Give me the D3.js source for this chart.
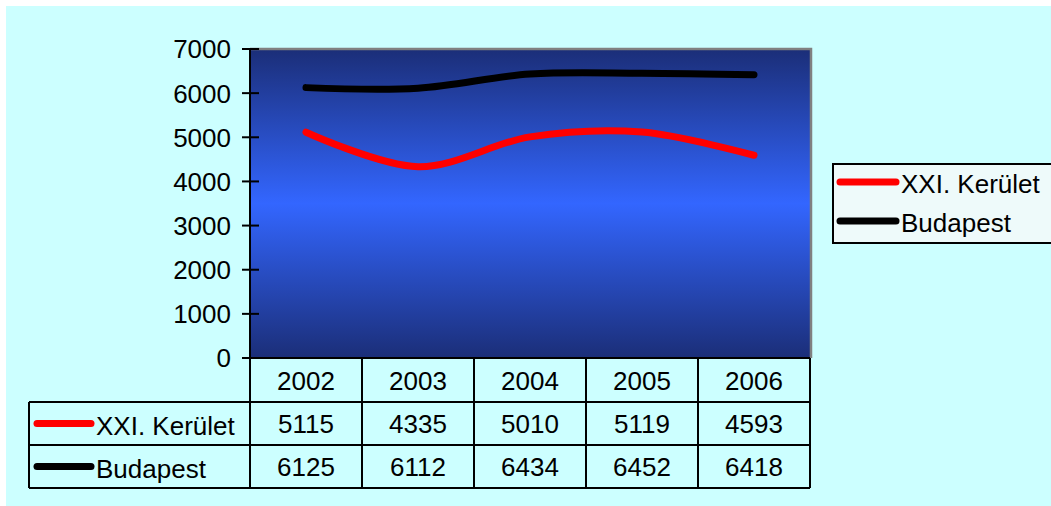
<!DOCTYPE html>
<html>
<head>
<meta charset="utf-8">
<script src="https://cdn.jsdelivr.net/npm/d3@7"></script>
<style>
	body { margin: 0; background: #fff; }
	svg { display: block; font-family: "Liberation Sans", Arial, sans-serif; }
</style>
</head>
<body>
<div id="chart"></div>
<script>
// chart data
var years = ["2002", "2003", "2004", "2005", "2006"];
var seriesNames = ["XXI. Kerület", "Budapest"];
var seriesColors = ["#ff0000", "#000000"];
var kerulet = [5115, 4335, 5010, 5119, 4593];
var budapest = [6125, 6112, 6434, 6452, 6418];
var yTicks = [0, 1000, 2000, 3000, 4000, 5000, 6000, 7000];

var series = [kerulet, budapest];

var W = 1051, H = 506;
var plot = { left: 250, right: 810, top: 49, bottom: 358 };
var rowH = 43;
var fs = 26;

var svg = d3.select("#chart").append("svg")
	.attr("width", W)
	.attr("height", H);

// background
svg.append("rect").attr("width", W).attr("height", H).attr("fill", "#fff");
svg.append("rect").attr("x", 6).attr("y", 6).attr("width", W - 6).attr("height", H - 6).attr("fill", "#ccffff");

// plot gradient
var defs = svg.append("defs");
var grad = defs.append("linearGradient").attr("id", "bg").attr("x1", 0).attr("y1", 0).attr("x2", 0).attr("y2", 1);
grad.append("stop").attr("offset", "0%").attr("stop-color", "#1b2e78");
grad.append("stop").attr("offset", "50%").attr("stop-color", "#3366ff");
grad.append("stop").attr("offset", "100%").attr("stop-color", "#1b2e78");

var x = d3.scaleBand().domain(years).range([plot.left, plot.right]);
var y = d3.scaleLinear().domain([0, 7000]).range([plot.bottom, plot.top]);

svg.append("rect")
	.attr("x", plot.left).attr("y", plot.top)
	.attr("width", plot.right - plot.left).attr("height", plot.bottom - plot.top)
	.attr("fill", "url(#bg)");

// gray border top / right
svg.append("path")
	.attr("d", `M${plot.left},${plot.top}H${plot.right + 1}V${plot.bottom}`)
	.attr("fill", "none").attr("stroke", "#808080").attr("stroke-width", 2.5);

// lines
var line = d3.line()
	.x((d, i) => x(years[i]) + x.bandwidth() / 2)
	.y(d => y(d))
	.curve(d3.curveCatmullRom.alpha(0));

var lines = svg.append("g").attr("class", "lines");
series.forEach((s, k) => {
	lines.append("path")
		.attr("d", line(s))
		.attr("fill", "none")
		.attr("stroke", seriesColors[k])
		.attr("stroke-width", 7)
		.attr("stroke-linecap", "round")
		.attr("stroke-linejoin", "round");
});

// y axis
var yAxis = svg.append("g").attr("class", "yAxis");
yAxis.append("line")
	.attr("x1", plot.left).attr("x2", plot.left)
	.attr("y1", plot.top).attr("y2", plot.bottom)
	.attr("stroke", "#000").attr("stroke-width", 2);
yTicks.forEach(t => {
	yAxis.append("line")
		.attr("x1", plot.left - 8).attr("x2", plot.left + 9)
		.attr("y1", y(t)).attr("y2", y(t))
		.attr("stroke", "#000").attr("stroke-width", 2);
	yAxis.append("text")
		.text(t)
		.attr("x", 231).attr("y", y(t))
		.attr("dy", "0.36em")
		.attr("text-anchor", "end")
		.attr("font-size", fs)
		.attr("fill", "#000");
});

// data table
var table = svg.append("g").attr("class", "table");
var tTop = plot.bottom;
var tLeft = 29;
var rows = [years].concat(series);

// horizontal lines
table.append("line").attr("x1", plot.left - 8).attr("x2", plot.right).attr("y1", tTop).attr("y2", tTop);
for (var r = 1; r <= 3; r++) {
	table.append("line")
		.attr("x1", tLeft).attr("x2", plot.right)
		.attr("y1", tTop + r * rowH + 1).attr("y2", tTop + r * rowH + 1);
}
// vertical lines
table.append("line").attr("x1", tLeft).attr("x2", tLeft).attr("y1", tTop + rowH + 1).attr("y2", tTop + 3 * rowH + 1);
years.forEach(yr => {
	table.append("line").attr("x1", x(yr)).attr("x2", x(yr)).attr("y1", tTop).attr("y2", tTop + 3 * rowH + 1);
});
table.append("line").attr("x1", plot.right).attr("x2", plot.right).attr("y1", tTop).attr("y2", tTop + 3 * rowH + 1);
table.selectAll("line").attr("stroke", "#000").attr("stroke-width", 2);

rows.forEach((row, r) => {
	row.forEach((v, i) => {
		table.append("text")
			.text(v)
			.attr("x", x(years[i]) + x.bandwidth() / 2)
			.attr("y", tTop + r * rowH + rowH / 2 + 1)
			.attr("dy", "0.36em")
			.attr("text-anchor", "middle")
			.attr("font-size", fs)
			.attr("fill", "#000");
	});
});

// row labels with keys
seriesNames.forEach((name, k) => {
	var cy = tTop + (k + 1) * rowH + rowH / 2 + 1;
	table.append("line")
		.attr("x1", 37).attr("x2", 91).attr("y1", cy).attr("y2", cy)
		.attr("stroke", seriesColors[k]).attr("stroke-width", 7).attr("stroke-linecap", "round");
	table.append("text")
		.text(name)
		.attr("x", 96).attr("y", cy + 2)
		.attr("dy", "0.36em")
		.attr("font-size", fs)
		.attr("fill", "#000");
});

// legend
var legend = svg.append("g").attr("class", "legend");
legend.append("rect")
	.attr("x", 833).attr("y", 164).attr("width", 230).attr("height", 79)
	.attr("fill", "#eefafa").attr("stroke", "#000").attr("stroke-width", 2);
seriesNames.forEach((name, k) => {
	var cy = 182 + k * 39;
	legend.append("line")
		.attr("x1", 840).attr("x2", 896).attr("y1", cy).attr("y2", cy)
		.attr("stroke", seriesColors[k]).attr("stroke-width", 7).attr("stroke-linecap", "round");
	legend.append("text")
		.text(name)
		.attr("x", 901).attr("y", cy + 2)
		.attr("dy", "0.36em")
		.attr("font-size", fs)
		.attr("fill", "#000");
});
</script>
</body>
</html>
